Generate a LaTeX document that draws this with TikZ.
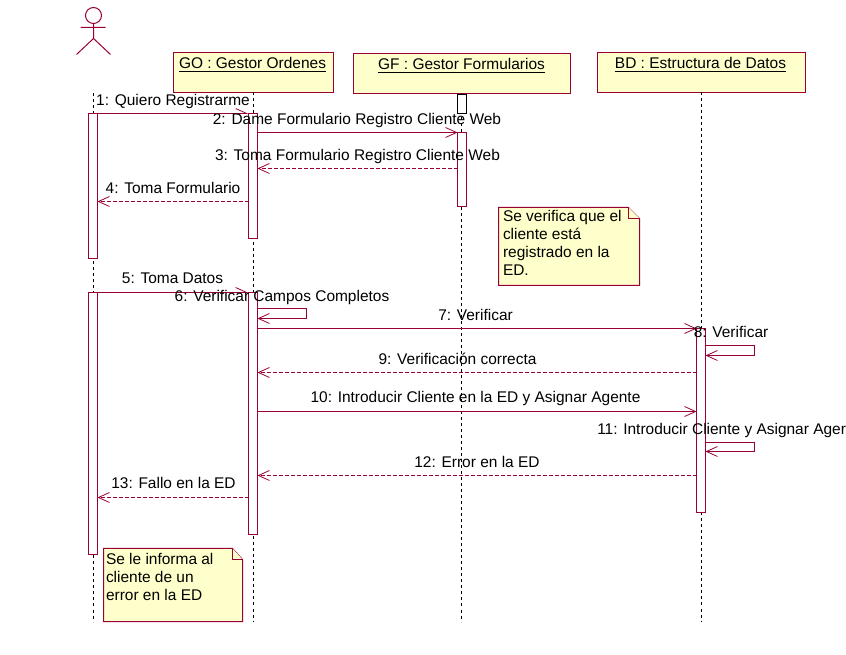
\documentclass[tikz,border=0pt]{standalone}
\usepackage{fontspec}
\setmainfont{Liberation Sans}
\usetikzlibrary{arrows.meta}
\definecolor{umlline}{HTML}{990033}
\definecolor{umlfill}{HTML}{FFFFCC}
\newcommand{\umlbar}[5]{\node[#1,anchor=north west,minimum width={(#4)*0.75pt},minimum height={(#5)*0.75pt}] (#2) at (#3) {};}
\tikzset{
  x=0.75pt,y=-0.75pt,
  umlbox/.style={draw=umlline,fill=umlfill,line width=0.75pt,inner sep=0pt,outer sep=0pt},
  actbox/.style={draw=umlline,fill=white,line width=0.75pt,inner sep=0pt,outer sep=0pt},
  startbox/.style={draw=black,fill=white,line width=0.75pt,inner sep=0pt,outer sep=0pt},
  life/.style={draw=black,line width=0.75pt,dash pattern=on 2.25pt off 2.25pt},
  figure/.style={draw=umlline,line width=0.75pt},
  msg/.style={draw=umlline,line width=0.75pt,-{Straight Barb[length=8.25pt,width=7.5pt,line width=0.6pt]}},
  amsg/.style={draw=umlline,line width=0.75pt,-{Straight Barb[left,length=8.25pt,width=7.5pt,line width=0.6pt]}},
  ret/.style={msg,dash pattern=on 3pt off 1.5pt},
  note/.style={draw=umlline,fill=umlfill,line width=0.75pt},
  lbl/.style={inner sep=0pt,outer sep=0pt,anchor=base,font=\fontsize{11.6pt}{13.5pt}\selectfont,text=black},
  title/.style={lbl,anchor=base},
  notetxt/.style={inner sep=0pt,outer sep=0pt,anchor=north west,align=left,font=\fontsize{11.6pt}{13.5pt}\selectfont,text=black},
}
\begin{document}
\begin{tikzpicture}
\useasboundingbox (0,0) rectangle (846,655);
\begin{scope}[shift={(0.5,0.5)}]
% actor
\draw[figure] (93,15) circle[radius=8];
\draw[figure] (93,23) -- (93,38) (80,27) -- (105,27) (76,54) -- (93,38) -- (110,54);
% header boxes
\umlbar{umlbox}{go}{173,52}{160}{40}
\umlbar{umlbox}{gf}{353,53}{217}{40}
\umlbar{umlbox}{bd}{597,52}{208}{40}
% lifelines
\draw[life] (93,93) -- (93,621);
\draw[life] (253,92) -- (253,621);
\draw[life] (461,93) -- (461,621);
\draw[life] (701,92) -- (701,621);
% activations
\umlbar{actbox}{a1}{88,113}{9}{145}
\umlbar{actbox}{a2}{88,292}{9}{262}
\umlbar{actbox}{g1}{248,113}{9}{125}
\umlbar{actbox}{g2}{248,292}{9}{242}
\umlbar{startbox}{f0}{457,94}{9}{19}
\umlbar{actbox}{f1}{457,132}{9}{74}
\umlbar{actbox}{b1}{696,328}{9}{184}
% messages
\draw[amsg] (a1.north east) -- (g1.north west);
\draw[msg] (g1.east |- 0,132) -- (f1.north west);
\draw[ret] (f1.west |- 0,168) -- (g1.east |- 0,168);
\draw[ret] (g1.west |- 0,201) -- (a1.east |- 0,201);
\draw[amsg] (a2.north east) -- (g2.north west);
\draw[msg] (g2.east |- 0,308) -- (306,308) -- (306,318) -- (g2.east |- 0,318);
\draw[msg] (g2.east |- 0,328) -- (b1.north west);
\draw[msg] (b1.east |- 0,345) -- (754,345) -- (754,355) -- (b1.east |- 0,355);
\draw[ret] (b1.west |- 0,372) -- (g2.east |- 0,372);
\draw[msg] (g2.east |- 0,411) -- (b1.west |- 0,411);
\draw[msg] (b1.east |- 0,442) -- (754,442) -- (754,451) -- (b1.east |- 0,451);
\draw[ret] (b1.west |- 0,475) -- (g2.east |- 0,475);
\draw[ret] (g2.west |- 0,497) -- (a2.east |- 0,497);
% notes
\draw[note] (498,207) -- (628,207) -- (639,218) -- (639,285) -- (498,285) -- cycle;
\draw[note] (628,207) -- (628,218) -- (639,218);
\draw[note] (103,548) -- (232,548) -- (242,559) -- (242,621) -- (103,621) -- cycle;
\draw[note] (232,548) -- (232,559) -- (242,559);
\end{scope}
\node[notetxt] (n1) at (503,210.7) {Se verifica que el\\cliente está\\registrado en la\\ED.};
\node[notetxt] (n2) at (106,553.3) {Se le informa al\\cliente de un\\error en la ED};
% titles
\node[title] (tgo) at (252.5,69) {\underline{GO : Gestor Ordenes}};
\node[title] (tgf) at (461.5,70) {\underline{GF : Gestor Formularios}};
\node[title] (tbd) at (700.5,69) {\underline{BD : Estructura de Datos}};
% labels
\begin{scope}[shift={(0,1)}]
\node[lbl] (m1) at (173,105) {1: Quiero Registrarme};
\node[lbl] (m2) at (357,124) {2: Dame Formulario Registro Cliente Web};
\node[lbl] (m3) at (357.5,160) {3: Toma Formulario Registro Cliente Web};
\node[lbl] (m4) at (173,193) {4: Toma Formulario};
\node[lbl] (m5) at (172.5,283) {5: Toma Datos};
\node[lbl] (m6) at (282,301) {6: Verificar Campos Completos};
\node[lbl] (m7) at (475.5,320) {7: Verificar};
\node[lbl] (m8) at (731,337) {8: Verificar};
\node[lbl] (m9) at (457.5,364) {9: Verificación correcta};
\node[lbl] (m10) at (475.5,402) {10: Introducir Cliente en la ED y Asignar Agente};
\node[lbl,anchor=base east] (m11) at (846,434) {11: Introducir Cliente y Asignar Ager};
\node[lbl] (m12) at (477,467) {12: Error en la ED};
\node[lbl] (m13) at (173.5,488) {13: Fallo en la ED};
\end{scope}
\end{tikzpicture}
\end{document}
